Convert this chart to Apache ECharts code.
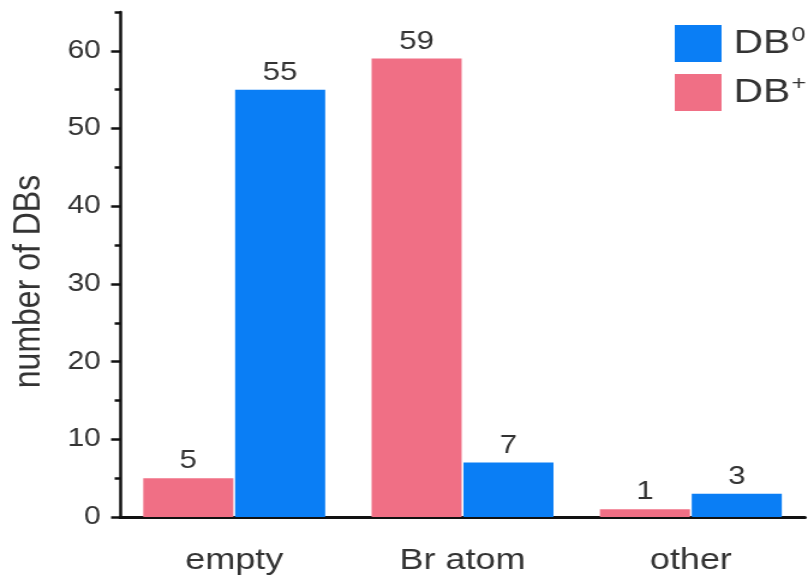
<!DOCTYPE html>
<html>
<head>
<meta charset="utf-8">
<script src="https://cdn.jsdelivr.net/npm/echarts@6/dist/echarts.min.js"></script>
<style>
  html, body { margin: 0; padding: 0; background: #fff; overflow: hidden; }
  /* the plot is laid out narrower and widened horizontally, giving the stretched lettering */
  #chart { width: 673px; height: 580px; transform: scaleX(1.20059); transform-origin: 0 0; }
</style>
</head>
<body>
<div id="chart"></div>
<script>
// Number of dangling bonds found at each site type, split by charge state
const categories = ['empty', 'Br atom', 'other'];
const dbPlus = [5, 59, 1];
const dbZero = [55, 7, 3];
const majorTicks = [0, 10, 20, 30, 40, 50, 60];
const minorTicks = [5, 15, 25, 35, 45, 55, 65];

const FONT = 'Liberation Sans, Arial, sans-serif';
const INK = '#333';
const AXIS = '#111';
const PINK = '#f06f85';
const BLUE = '#0a7ef5';

const chart = echarts.init(document.getElementById('chart'), null, { renderer: 'canvas' });

const valueLabel = {
  show: true,
  position: 'top',
  distance: 4,
  color: INK,
  fontFamily: FONT,
  fontSize: 26
};

chart.setOption({
  animation: false,
  backgroundColor: '#fff',
  grid: { left: 100, right: 2.5, top: 12, bottom: 63, containLabel: false },
  legend: {
    left: 557,
    top: 20,
    orient: 'vertical',
    itemWidth: 39,
    itemHeight: 37,
    itemGap: 12,
    icon: 'rect',
    data: ['DB0', 'DB+'],
    formatter: function (name) {
      return '{b|DB}{s|' + name.slice(2) + '}';
    },
    textStyle: {
      rich: {
        b: { fontFamily: FONT, fontSize: 34, color: INK, lineHeight: 37, padding: [0, 0, 0, 5] },
        s: { fontFamily: FONT, fontSize: 21, color: INK, verticalAlign: 'top', lineHeight: 22, padding: [0, 0, 14, 1] }
      }
    }
  },
  xAxis: {
    type: 'category',
    data: categories,
    axisLine: { lineStyle: { color: AXIS, width: 3 } },
    axisTick: { show: false },
    axisLabel: { color: INK, fontFamily: FONT, fontSize: 30, margin: 29 }
  },
  yAxis: [
    {
      type: 'value',
      min: 0,
      max: 65,
      interval: 10,
      name: 'number of DBs',
      nameLocation: 'middle',
      nameGap: 60,
      nameTextStyle: { color: INK, fontFamily: FONT, fontSize: 32, padding: [0, 34, 0, 0] },
      axisLine: { show: true, lineStyle: { color: AXIS, width: 2.5 } },
      axisTick: { show: true, length: 7.5, customValues: majorTicks, lineStyle: { color: AXIS, width: 2.5 } },
      axisLabel: { color: INK, fontFamily: FONT, fontSize: 25, margin: 16, customValues: majorTicks },
      splitLine: { show: false }
    },
    {
      type: 'value',
      min: 0,
      max: 65,
      interval: 5,
      position: 'left',
      axisLine: { show: false },
      axisTick: { show: true, length: 4.5, customValues: minorTicks, lineStyle: { color: AXIS, width: 2.5 } },
      axisLabel: { show: false },
      splitLine: { show: false }
    }
  ],
  series: [
    {
      name: 'DB+',
      type: 'bar',
      data: dbPlus,
      barWidth: 75,
      barGap: '2%',
      itemStyle: { color: PINK },
      label: valueLabel
    },
    {
      name: 'DB0',
      type: 'bar',
      data: dbZero,
      barWidth: 75,
      itemStyle: { color: BLUE },
      label: valueLabel
    }
  ]
});
</script>
</body>
</html>
